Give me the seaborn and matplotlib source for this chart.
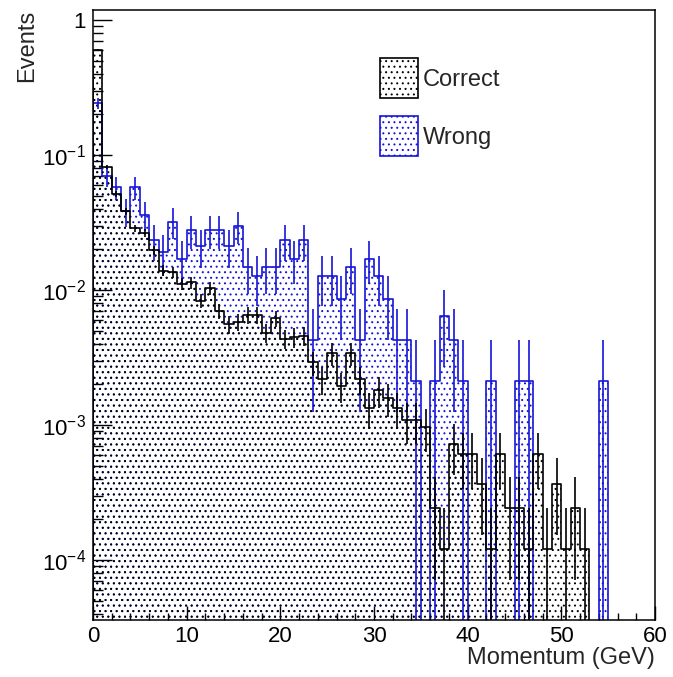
import numpy as np
import pandas as pd
import matplotlib
matplotlib.use("Agg")
import matplotlib.pyplot as plt
import seaborn as sns
from matplotlib.patches import Patch
from matplotlib.ticker import FixedLocator, FixedFormatter, LogLocator, MultipleLocator, NullFormatter

# ---------------- data (event counts per 1 GeV bin) ----------------
bin_edges = list(range(0, 61))
correct_counts = [4950, 675, 423, 317, 236, 220, 163, 115, 112, 92,
                  94, 69, 85, 58, 46, 48, 54, 54, 40, 51,
                  36, 37, 38, 24, 18, 28, 16, 28, 18, 11,
                  15, 13, 11, 9, 9, 8, 2, 1, 6, 5,
                  5, 3, 1, 5, 2, 2, 1, 5, 1, 3,
                  1, 2, 1, 0, 0, 0, 0, 0, 0, 0]
wrong_counts = [114, 33, 27, 18, 27, 17, 11, 9, 15, 8,
                13, 10, 13, 13, 10, 14, 7, 6, 7, 7,
                11, 8, 11, 2, 6, 6, 4, 7, 2, 8,
                6, 4, 2, 2, 1, 0, 1, 3, 2, 1,
                0, 0, 1, 0, 0, 1, 1, 0, 0, 0,
                0, 0, 0, 0, 1, 0, 0, 0, 0, 0]
series_labels = ["Correct", "Wrong"]
x_ticks = [0, 10, 20, 30, 40, 50, 60]
y_ticks = [1e-4, 1e-3, 1e-2, 1e-1, 1]
y_tick_labels = [r"$10^{-4}$", r"$10^{-3}$", r"$10^{-2}$", r"$10^{-1}$", "1"]

# ---------------- style ----------------
sns.set_theme(style="white")
plt.rcParams["font.family"] = ["Liberation Sans", "DejaVu Sans"]
plt.rcParams["mathtext.fontset"] = "custom"
plt.rcParams["mathtext.rm"] = "Liberation Sans"
plt.rcParams["mathtext.it"] = "Liberation Sans:italic"
plt.rcParams["mathtext.bf"] = "Liberation Sans:bold"
plt.rcParams["hatch.linewidth"] = 0.7
plt.rcParams["axes.unicode_minus"] = True

BLACK = "#000000"
BLUE = "#1414d8"
HATCH = "..."

fig = plt.figure(figsize=(6.73, 6.77), dpi=100)
fig.patch.set_facecolor("white")
ax = fig.add_axes([93 / 673, 57 / 677, 562 / 673, 610 / 677])

edges = np.array(bin_edges, dtype=float)
centers = 0.5 * (edges[:-1] + edges[1:])
n_bins = len(edges) - 1

# draw "Wrong" first so the "Correct" dots show through in the shared region
for counts, color, label in [(wrong_counts, BLUE, series_labels[1]),
                             (correct_counts, BLACK, series_labels[0])]:
    c = np.array(counts, dtype=float)
    total = c.sum()
    vals = c / total
    df = pd.DataFrame({"x": centers, "w": vals})
    sns.histplot(data=df, x="x", weights="w", bins=n_bins,
                 binrange=(edges[0], edges[-1]), element="step",
                 fill=True, color=color, facecolor="none", edgecolor=color, hatch=HATCH,
                 linewidth=1.2, ax=ax, label=label)
    err = np.sqrt(c) / total
    m = c > 0
    lower = np.minimum(err, vals * 0.9999)
    ax.errorbar(centers[m], vals[m], yerr=[lower[m], err[m]], fmt="none",
                ecolor=color, elinewidth=1.2, capsize=0)

ax.set_yscale("log")
ax.set_xlim(0, 60)
ax.set_ylim(3.59e-5, 1.186)

ax.xaxis.set_major_locator(FixedLocator(x_ticks))
ax.xaxis.set_minor_locator(MultipleLocator(2))
ax.yaxis.set_major_locator(FixedLocator(y_ticks))
ax.yaxis.set_major_formatter(FixedFormatter(y_tick_labels))
ax.yaxis.set_minor_locator(LogLocator(base=10, subs=np.arange(2, 10)))
ax.yaxis.set_minor_formatter(NullFormatter())

ax.tick_params(which="both", direction="in", top=False, right=False,
               left=True, bottom=True, colors="black", width=1.0, labelsize=16)
ax.tick_params(axis="y", which="major", length=14, pad=5)
ax.tick_params(axis="y", which="minor", length=7)
ax.tick_params(axis="x", which="major", length=10, pad=4)
ax.tick_params(axis="x", which="minor", length=5)

for sp in ax.spines.values():
    sp.set_color("black")
    sp.set_linewidth(1.1)

ax.set_xlabel("Momentum (GeV)", fontsize=17, loc="right")
ax.xaxis.set_label_coords(1.0, -0.045)
ax.set_ylabel("Events", fontsize=17, loc="top")
ax.yaxis.set_label_coords(-0.098, 1.0)

handles = [Patch(facecolor="white", edgecolor=BLACK, hatch=HATCH, linewidth=1.2, label=series_labels[0]),
           Patch(facecolor="white", edgecolor=BLUE, hatch=HATCH, linewidth=1.2, label=series_labels[1])]
ax.legend(handles=handles, loc="upper left", bbox_to_anchor=(0.511, 0.921),
          frameon=False, fontsize=17, handlelength=1.61, handleheight=2.23,
          handletextpad=0.18, labelspacing=0.76, borderpad=0, borderaxespad=0)

fig.savefig("out.png", dpi=100, facecolor="white")
